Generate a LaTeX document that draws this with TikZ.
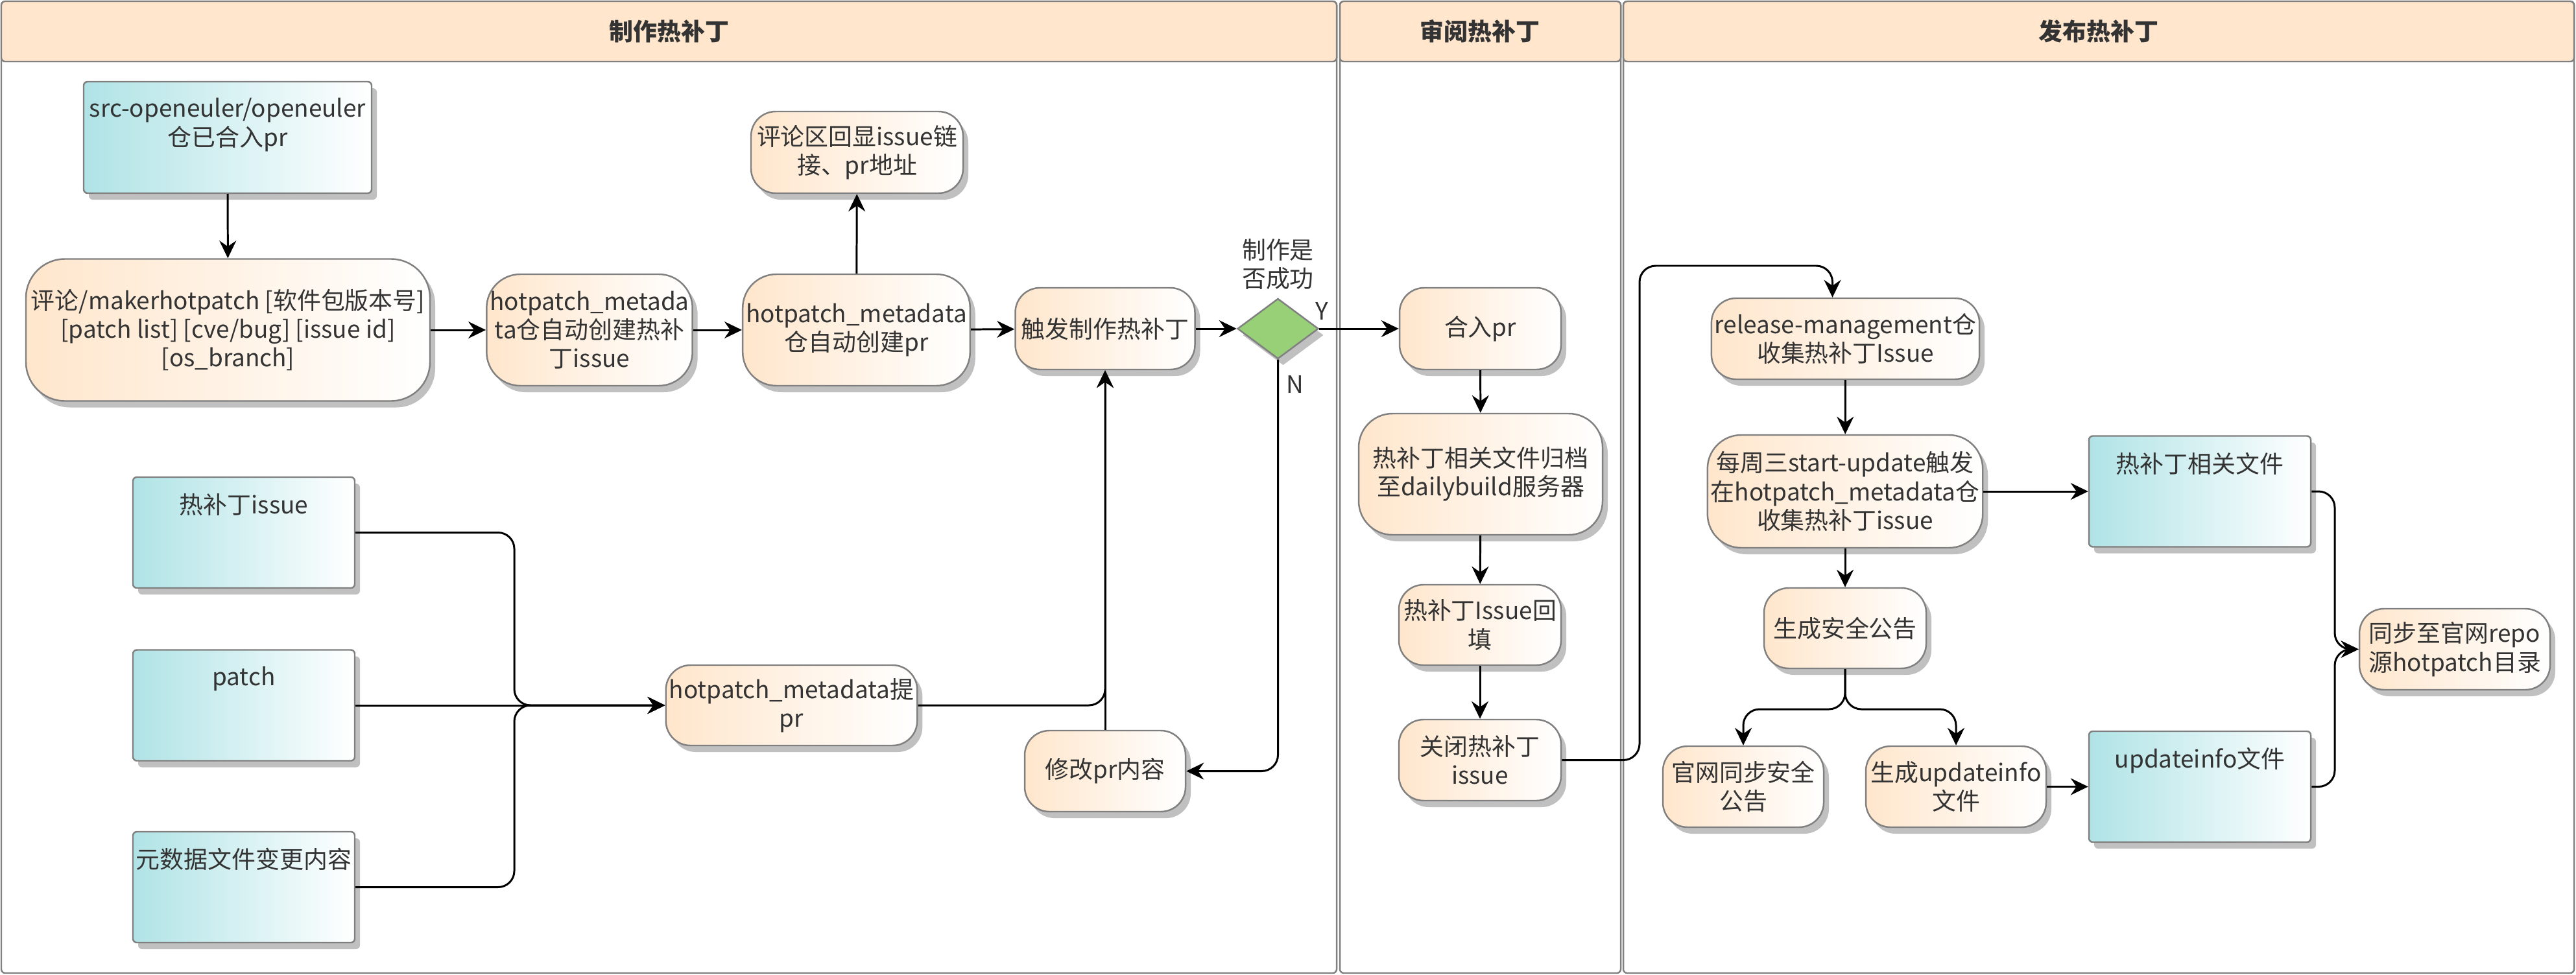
\documentclass[tikz,border=0pt]{standalone}
\usepackage{fontspec}
\setmainfont{Noto Sans CJK SC}
\usepackage{tikz}
\usetikzlibrary{arrows.meta}
\usetikzlibrary{positioning}
\usetikzlibrary{shapes.geometric}
\usetikzlibrary{shadows}
\definecolor{mpeach}{HTML}{FFE6CC}
\definecolor{mcyan}{HTML}{B0E3E6}
\definecolor{mgreen}{HTML}{97D077}
\definecolor{mgray}{HTML}{808080}
\definecolor{mshade}{HTML}{C0C0C0}
\definecolor{mtext}{HTML}{333333}
\tikzset{
  boxshadow/.style={drop shadow={shadow xshift=0.8mm, shadow yshift=-1mm, fill=mshade, opacity=1}},
  proc/.style={draw=mgray, line width=0.7pt, rounded corners=3.8mm, left color=mpeach, right color=white, align=center, inner sep=0.5mm, boxshadow},
  filebox/.style={draw=mgray, line width=0.7pt, rounded corners=0.6mm, left color=mcyan, right color=white, minimum width=3.42cm, minimum height=1.71cm, boxshadow},
  filetext/.style={anchor=north, align=center, inner sep=0pt, yshift=-2.6mm},
  decision/.style={diamond, draw=mgray, line width=0.7pt, fill=mgreen, minimum width=1.25cm, minimum height=0.93cm, inner sep=0pt, boxshadow},
  flowline/.style={line width=0.85pt, rounded corners=2.5mm, -{Stealth[length=2.7mm, width=2.6mm, inset=0.9mm]}},
  lanebox/.style={draw=mgray, line width=0.7pt, rounded corners=0.6mm},
  lanehead/.style={draw=mgray, line width=0.7pt, rounded corners=0.6mm, fill=mpeach},
  lanetitle/.style={font=\fontsize{10.5pt}{12.6pt}\selectfont\bfseries}
}

\begin{document}
\begin{tikzpicture}[font=\fontsize{10.5pt}{12.6pt}\selectfont, text=mtext]
  \useasboundingbox (0,0) rectangle (39.72,-15.04);

  \draw[lanebox] (0.02,-0.02) rectangle (20.61,-15.01);
  \draw[lanehead] (0.02,-0.02) rectangle (20.61,-0.95);
  \draw[lanebox] (20.66,-0.02) rectangle (24.99,-15.01);
  \draw[lanehead] (20.66,-0.02) rectangle (24.99,-0.95);
  \draw[lanebox] (25.03,-0.02) rectangle (39.69,-15.01);
  \draw[lanehead] (25.03,-0.02) rectangle (39.69,-0.95);
  \node[lanetitle] (tmake) at (10.32,-0.485) {制作热补丁};
  \node[lanetitle] (treview) at (22.82,-0.485) {审阅热补丁};
  \node[lanetitle] (trelease) at (32.36,-0.485) {发布热补丁};

  \node[filebox, minimum width=4.44cm, minimum height=1.72cm, label={[filetext]north:src-openeuler/openeuler\\仓已合入pr}] (src) at (3.51,-2.12) {};
  \node[proc, minimum width=6.23cm, minimum height=2.19cm, rounded corners=6mm] (cmt) at (3.515,-5.09) {评论/makerhotpatch [软件包版本号]\\{}[patch list] [cve/bug] [issue id]\\{}[os\_branch]};
  \node[proc, minimum width=2.94cm, minimum height=1.72cm, rounded corners=5.2mm] (mkissue) at (9.09,-5.09) {hotpatch\_metada\\ta仓自动创建热补\\丁issue};
  \node[proc, minimum width=3.25cm, minimum height=1.72cm, rounded corners=5.2mm] (mkpr) at (13.205,-5.09) {hotpatch\_metadata\\仓自动创建pr};
  \node[proc, minimum width=3.27cm, minimum height=1.26cm] (echo) at (13.215,-2.35) {评论区回显issue链\\接、pr地址};
  \node[proc, minimum width=2.77cm, minimum height=1.26cm] (trigger) at (17.04,-5.07) {触发制作热补丁};
  \node[decision] (dia) at (19.705,-5.07) {};
  \node[above=0pt of dia, align=center] (ask) {制作是\\否成功};

  \node[filebox, label={[filetext]north:热补丁issue}] (issue) at (3.76,-8.215) {};
  \node[filebox, label={[filetext]north:patch}] (patch) at (3.76,-10.88) {};
  \node[filebox, label={[filetext]north:元数据文件变更内容}] (meta) at (3.76,-13.685) {};
  \node[proc, minimum width=3.73cm, minimum height=1.24cm] (hotpr) at (12.205,-10.88) {hotpatch\_metadata提\\pr};
  \node[proc, minimum width=2.48cm, minimum height=1.25cm] (modify) at (17.04,-11.895) {修改pr内容};

  \node[proc, minimum width=2.49cm, minimum height=1.26cm] (merge) at (22.825,-5.07) {合入pr};
  \node[proc, minimum width=3.76cm, minimum height=1.87cm, rounded corners=5.2mm] (archive) at (22.83,-7.315) {热补丁相关文件归档\\至dailybuild服务器};
  \node[proc, minimum width=2.5cm, minimum height=1.24cm] (backfill) at (22.82,-9.64) {热补丁Issue回\\填};
  \node[proc, minimum width=2.5cm, minimum height=1.25cm] (close) at (22.82,-11.725) {关闭热补丁\\issue};

  \node[proc, minimum width=4.05cm, minimum height=1.25cm] (release) at (28.455,-5.225) {release-management仓\\收集热补丁Issue};
  \node[proc, minimum width=4.04cm, minimum height=1.74cm, rounded corners=5.2mm] (weekly) at (28.45,-7.58) {每周三start-update触发\\在hotpatch\_metadata仓\\收集热补丁issue};
  \node[proc, minimum width=2.5cm, minimum height=1.24cm] (notice) at (28.45,-9.69) {生成安全公告};
  \node[proc, minimum width=2.48cm, minimum height=1.25cm] (websync) at (26.88,-12.135) {官网同步安全\\公告};
  \node[proc, minimum width=2.78cm, minimum height=1.25cm] (geninfo) at (30.16,-12.135) {生成updateinfo\\文件};
  \node[filebox, label={[filetext]north:热补丁相关文件}] (hpfiles) at (33.92,-7.58) {};
  \node[filebox, label={[filetext]north:updateinfo文件}] (infofile) at (33.92,-12.135) {};
  \node[proc, minimum width=2.94cm, minimum height=1.25cm] (repo) at (37.85,-10.015) {同步至官网repo\\源hotpatch目录};

  \coordinate (join) at (7.93,-10.88);
  \coordinate (turn) at (25.28,-4.10);
  \coordinate (fork) at (28.45,-10.94);
  \coordinate (gather) at (36.00,-10.015);

  \draw[flowline] (src) -- (cmt);
  \draw[flowline] (cmt) -- (mkissue);
  \draw[flowline] (mkissue) -- (mkpr);
  \draw[flowline] (mkpr) -- (echo);
  \draw[flowline] (mkpr) -- (trigger);
  \draw[flowline] (trigger) -- (dia);
  \draw[flowline] (dia) -- (merge) node[pos=0.03, above] (yes) {Y};
  \draw[flowline] (dia) |- (modify) node[pos=0.03, right] (no) {N};
  \draw[flowline] (issue.east) -| (join) -- (hotpr.west);
  \draw[flowline] (patch) -- (hotpr);
  \draw[flowline] (meta.east) -| (join) -- (hotpr.west);
  \draw[flowline] (hotpr.east) -| (trigger.south);
  \draw[flowline] (modify) -- (trigger);

  \draw[flowline] (merge) -- (archive);
  \draw[flowline] (archive) -- (backfill);
  \draw[flowline] (backfill) -- (close);
  \draw[flowline] (close.east) -| (turn) -| ([xshift=-2mm]release.north);

  \draw[flowline] (release) -- (weekly);
  \draw[flowline] (weekly) -- (notice);
  \draw[flowline] (weekly) -- (hpfiles);
  \draw[flowline] (notice.south) -- (fork) -| (websync.north);
  \draw[flowline] (notice.south) -- (fork) -| (geninfo.north);
  \draw[flowline] (geninfo) -- (infofile);
  \draw[flowline] (hpfiles.east) -| (gather) -- (repo.west);
  \draw[flowline] (infofile.east) -| (gather) -- (repo.west);
\end{tikzpicture}
\end{document}
